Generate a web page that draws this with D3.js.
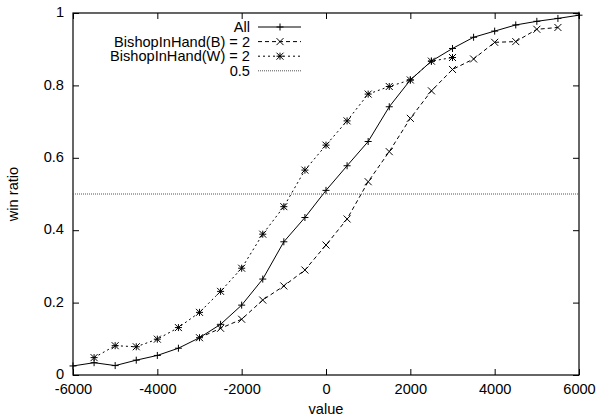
<!DOCTYPE html>
<html>
<head>
<meta charset="utf-8">
<script src="https://cdn.jsdelivr.net/npm/d3@7"></script>
<style>
  body { margin: 0; background: #fff; }
  text { font-family: "Liberation Sans", Arial, sans-serif; font-size: 14.6px; fill: #000; }
</style>
</head>
<body>
<div id="chart"></div>
<script>
  // ========= Data ========= //
  const allX = [-6000, -5500, -5000, -4500, -4000, -3500, -3000, -2500, -2000, -1500, -1000, -500, 0,
    500, 1000, 1500, 2000, 2500, 3000, 3500, 4000, 4500, 5000, 5500, 6000];
  const allY = [0.025, 0.034, 0.026, 0.041, 0.054, 0.074, 0.103, 0.140, 0.193, 0.265, 0.368, 0.435, 0.510,
    0.578, 0.645, 0.741, 0.815, 0.867, 0.902, 0.933, 0.950, 0.967, 0.977, 0.985, 0.994];

  const bishopBX = [-3000, -2500, -2000, -1500, -1000, -500, 0, 500, 1000, 1500, 2000, 2500, 3000,
    3500, 4000, 4500, 5000, 5500];
  const bishopBY = [0.103, 0.129, 0.154, 0.207, 0.246, 0.290, 0.359, 0.431, 0.534, 0.617, 0.709, 0.785, 0.844,
    0.873, 0.919, 0.921, 0.955, 0.960];

  const bishopWX = [-5500, -5000, -4500, -4000, -3500, -3000, -2500, -2000, -1500, -1000, -500, 0,
    500, 1000, 1500, 2000, 2500, 3000];
  const bishopWY = [0.048, 0.081, 0.078, 0.099, 0.131, 0.173, 0.231, 0.295, 0.389, 0.465, 0.566, 0.635,
    0.702, 0.776, 0.797, 0.815, 0.867, 0.877];

  const refLevel = 0.5;
  const xTicks = [-6000, -4000, -2000, 0, 2000, 4000, 6000];
  const yTicks = [0, 0.2, 0.4, 0.6, 0.8, 1];

  // ========= Setup ========= //
  const width = 604, height = 419;
  const pLeft = 73, pRight = 579, pTop = 13, pBottom = 375;

  const svg = d3.select('#chart').append('svg')
    .attr('width', width)
    .attr('height', height);

  const x = d3.scaleLinear().domain([-6000, 6000]).range([pLeft, pRight]);
  const y = d3.scaleLinear().domain([0, 1]).range([pBottom, pTop]);

  const fmt = d => String(d);

  // ========= Axes (ticks inward, mirrored) ========= //
  function styleAxis(g) {
    g.select('.domain').remove();
    g.selectAll('.tick line').attr('stroke', '#000');
    g.attr('font-family', null).attr('font-size', null);
  }

  svg.append('g')
    .attr('transform', `translate(0,${pBottom})`)
    .call(d3.axisBottom(x).tickValues(xTicks).tickFormat(fmt).tickSize(-6).tickPadding(9))
    .call(styleAxis);

  svg.append('g')
    .attr('transform', `translate(0,${pTop})`)
    .call(d3.axisTop(x).tickValues(xTicks).tickFormat('').tickSize(-6))
    .call(styleAxis);

  svg.append('g')
    .attr('transform', `translate(${pLeft},0)`)
    .call(d3.axisLeft(y).tickValues(yTicks).tickFormat(fmt).tickSize(-6).tickPadding(9))
    .call(styleAxis)
    .selectAll('text').attr('dy', '0.26em');

  svg.append('g')
    .attr('transform', `translate(${pRight},0)`)
    .call(d3.axisRight(y).tickValues(yTicks).tickFormat('').tickSize(-6))
    .call(styleAxis);

  // ========= Border ========= //
  svg.append('rect')
    .attr('x', pLeft).attr('y', pTop)
    .attr('width', pRight - pLeft).attr('height', pBottom - pTop)
    .attr('fill', 'none').attr('stroke', '#000').attr('stroke-width', 1.2);

  // ========= Axis labels ========= //
  svg.append('text')
    .attr('x', (pLeft + pRight) / 2).attr('y', 414)
    .attr('text-anchor', 'middle')
    .text('value');

  svg.append('text')
    .attr('transform', `translate(18,${(pTop + pBottom) / 2}) rotate(-90)`)
    .attr('text-anchor', 'middle')
    .text('win ratio');

  // ========= Markers ========= //
  const s = 3.5;
  const plusPath = `M${-s},0H${s}M0,${-s}V${s}`;
  const crossPath = `M${-s},${-s}L${s},${s}M${-s},${s}L${s},${-s}`;
  const starPath = plusPath + crossPath;

  const series = [
    { name: 'All', xs: allX, ys: allY, dash: null, marker: plusPath },
    { name: 'BishopInHand(B) = 2', xs: bishopBX, ys: bishopBY, dash: '4,3', marker: crossPath },
    { name: 'BishopInHand(W) = 2', xs: bishopWX, ys: bishopWY, dash: '2,3', marker: starPath }
  ];

  const line = d3.line().x(d => x(d[0])).y(d => y(d[1]));

  series.forEach(sr => {
    const pts = sr.xs.map((v, i) => [v, sr.ys[i]]);
    svg.append('path')
      .datum(pts)
      .attr('d', line)
      .attr('fill', 'none')
      .attr('stroke', '#000')
      .attr('stroke-width', 1)
      .attr('stroke-dasharray', sr.dash);
    svg.append('g').selectAll('path')
      .data(pts)
      .join('path')
      .attr('transform', d => `translate(${x(d[0])},${y(d[1])})`)
      .attr('d', sr.marker)
      .attr('stroke', '#000')
      .attr('stroke-width', 1)
      .attr('fill', 'none');
  });

  // 0.5 reference line
  svg.append('line')
    .attr('x1', pLeft).attr('x2', pRight)
    .attr('y1', y(refLevel)).attr('y2', y(refLevel))
    .attr('stroke', '#555')
    .attr('stroke-width', 1)
    .attr('stroke-dasharray', '1,1');

  // ========= Legend ========= //
  const legendItems = [
    { label: 'All', dash: null, marker: plusPath, stroke: '#000' },
    { label: 'BishopInHand(B) = 2', dash: '4,3', marker: crossPath, stroke: '#000' },
    { label: 'BishopInHand(W) = 2', dash: '2,3', marker: starPath, stroke: '#000' },
    { label: '0.5', dash: '1,1', marker: null, stroke: '#555' }
  ];

  const legend = svg.append('g');
  legendItems.forEach((it, i) => {
    const cy = 27 + i * 14.6;
    legend.append('text')
      .attr('x', 250).attr('y', cy)
      .attr('dy', '0.35em')
      .attr('text-anchor', 'end')
      .text(it.label);
    legend.append('line')
      .attr('x1', 258).attr('x2', 301)
      .attr('y1', cy).attr('y2', cy)
      .attr('stroke', it.stroke)
      .attr('stroke-width', 1)
      .attr('stroke-dasharray', it.dash);
    if (it.marker) {
      legend.append('path')
        .attr('transform', `translate(280,${cy})`)
        .attr('d', it.marker)
        .attr('stroke', '#000')
        .attr('fill', 'none');
    }
  });
</script>
</body>
</html>
